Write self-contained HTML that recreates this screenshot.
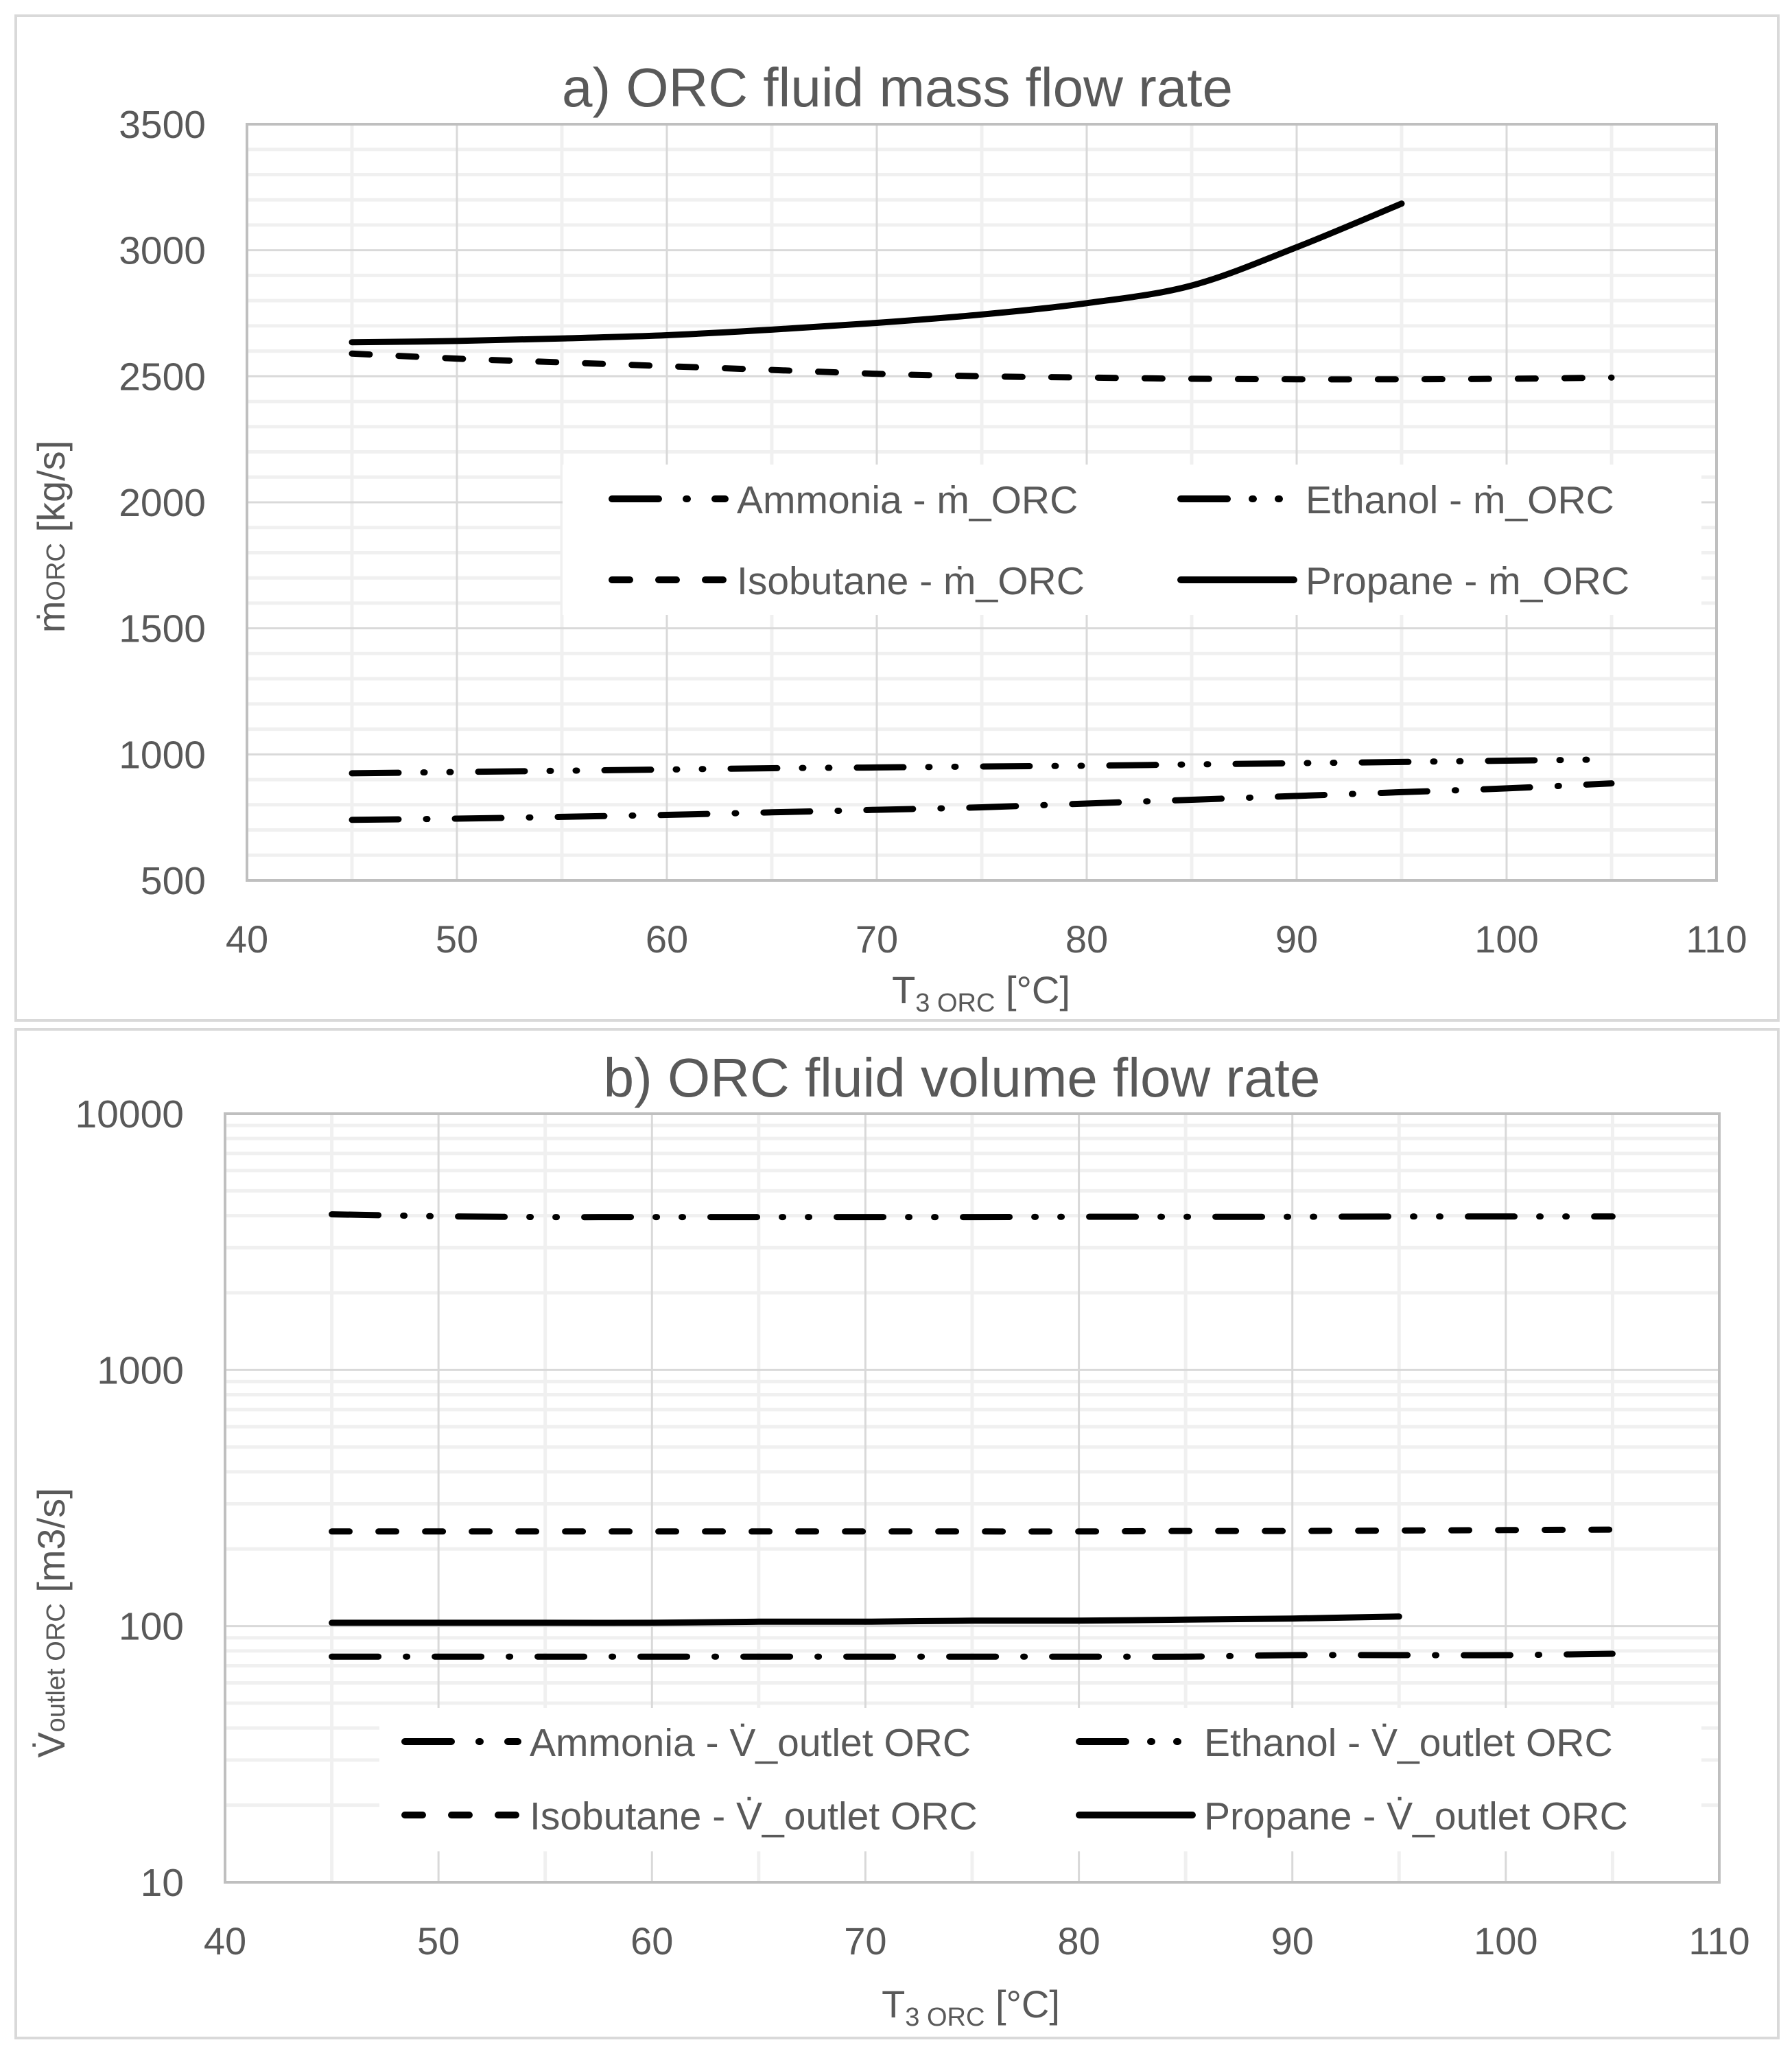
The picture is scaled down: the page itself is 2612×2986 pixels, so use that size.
<!DOCTYPE html>
<html><head><meta charset="utf-8"><style>
html,body{margin:0;padding:0;background:#fff}
svg{display:block}
text{font-family:"Liberation Sans",sans-serif;fill:#595959}
</style></head><body>
<svg id="svg" width="2612" height="2986" viewBox="0 0 2612 2986" xmlns="http://www.w3.org/2000/svg">
<rect x="23" y="23" width="2569" height="1464" fill="#fff" stroke="#d9d9d9" stroke-width="4"/>
<rect x="23" y="1500" width="2569" height="1470" fill="#fff" stroke="#d9d9d9" stroke-width="4"/>
<g id="ca"></g>
<g id="cb"></g>
</svg>
<script>
// Chart a data
const xsA = [45,50,55,60,65,70,75,80,85,90,95,100,105];
const xsProp = [45,50,55,60,65,70,75,80,85,90,95];
const aAmmonia = [740,745,752,760,770,780,790,805,820,835,850,865,885];
const aEthanol = [925,930,935,940,945,948,952,955,960,965,970,975,980];
const aIsobutane = [2590,2570,2555,2540,2525,2510,2500,2495,2490,2488,2488,2490,2495];
const aPropane = [2635,2640,2650,2663,2685,2712,2745,2790,2860,3012,3185];
const aYTicks = [500,1000,1500,2000,2500,3000,3500];
const xTicks = [40,50,60,70,80,90,100,110];
// Chart b data
const bAmmonia = [76,76,76,76,76,76,76,76,76,77,77,77,78];
const bEthanol = [4050,3980,3950,3950,3950,3950,3950,3960,3960,3960,3970,3970,3970];
const bIsobutane = [234,234,234,234,234,234,234,234,235,235,236,237,238];
const bPropane = [103,103,103,103,104,104,105,105,106,107,109];
const bYTicks = [10,100,1000,10000];

const NS='http://www.w3.org/2000/svg';
function mk(parent,tag,attrs,txt){const e=document.createElementNS(NS,tag);for(const k in attrs)e.setAttribute(k,attrs[k]);if(txt!==undefined)e.textContent=txt;parent.appendChild(e);return e;}
const DASH={amm:'68,40,2,40',eth:'68,36,2,36,2,40',iso:'26,42',prop:'none'};
function smooth(P){
  let d='M'+P[0][0].toFixed(1)+','+P[0][1].toFixed(1);
  for(let i=0;i<P.length-1;i++){
    const p0=P[Math.max(0,i-1)],p1=P[i],p2=P[i+1],p3=P[Math.min(P.length-1,i+2)];
    const c1=[p1[0]+(p2[0]-p0[0])/6,p1[1]+(p2[1]-p0[1])/6];
    const c2=[p2[0]-(p3[0]-p1[0])/6,p2[1]-(p3[1]-p1[1])/6];
    d+=' C'+c1.map(v=>v.toFixed(1)).join(',')+' '+c2.map(v=>v.toFixed(1)).join(',')+' '+p2.map(v=>v.toFixed(1)).join(',');
  }
  return d;
}

function chart(g,o){
  const X=v=>o.x0+(v-40)/70*(o.x1-o.x0);
  const Y=o.Y;
  for(let v=45;v<110;v+=10){const l=mk(g,'line',{x1:X(v),x2:X(v),y1:o.y0,y2:o.y1,stroke:'#f0f0f0','stroke-width':5});
    
    }
  o.minor.forEach(v=>{const l=mk(g,'line',{x1:o.x0,x2:o.x1,y1:Y(v),y2:Y(v),stroke:'#f0f0f0','stroke-width':5});
    
    });
  xTicks.forEach(v=>{const l=mk(g,'line',{x1:X(v),x2:X(v),y1:o.y0,y2:o.y1,stroke:'#d9d9d9','stroke-width':3});
    
    
    const t=mk(g,'text',{x:X(v),y:o.y1+o.xty,'font-size':56,'text-anchor':'middle'},v);
    
    });
  o.yt.forEach(v=>{const l=mk(g,'line',{x1:o.x0,x2:o.x1,y1:Y(v),y2:Y(v),stroke:'#d9d9d9','stroke-width':3});
    
    
    const t=mk(g,'text',{x:o.tx,y:Y(v)+20,'font-size':57,'text-anchor':'end'},v);
    
    });
  const b=mk(g,'rect',{x:o.x0,y:o.y0,width:o.x1-o.x0,height:o.y1-o.y0,fill:'none',stroke:'#bfbfbf','stroke-width':4});
  
  
  const lb=mk(g,'rect',{x:o.lg.x,y:o.lg.y,width:o.lg.w,height:o.lg.h,fill:'#fff'});
  
  
  o.series.forEach(s=>{
    const P=s.ys.map((v,i)=>[X(s.xs[i]),Y(v)]);
    const p=mk(g,'path',{d:smooth(P),fill:'none',stroke:'#000','stroke-width':9,'stroke-linecap':'round','stroke-linejoin':'round','stroke-dasharray':DASH[s.d]});
    
    
  });
  o.series.forEach((s,i)=>{
    const col=o.legOrder[i];const cx=o.lg.cols[col[0]], cy=o.lg.rows[col[1]];
    const ln=mk(g,'line',{x1:cx+5,x2:cx+170,y1:cy,y2:cy,stroke:'#000','stroke-width':10,'stroke-linecap':'round','stroke-dasharray':DASH[s.d]});
    
    
    const t=mk(g,'text',{x:cx+187,y:cy+21,'font-size':57},s.n+' - '+o.sym);
    
    
  });
  const tt=mk(g,'text',{x:o.title[0],y:o.title[1],'font-size':80,'text-anchor':'middle'},o.titleText);
  
  
  const xt=mk(g,'text',{x:o.xt[0],y:o.xt[1],'font-size':56,'text-anchor':'middle'});
  
  
  xt.innerHTML='T<tspan font-size="38" dy="12">3 ORC</tspan><tspan dy="-12"> [°C]</tspan>';
  const yt=mk(g,'text',{x:0,y:0,'font-size':56,'text-anchor':'middle',transform:'translate('+o.yti[0]+','+o.yti[1]+') rotate(-90)'});
  
  
  yt.innerHTML=o.ytHtml;
}

const a0=181,a1=1283;
const minorA=[];for(let v=600;v<3500;v+=100)if(v%500)minorA.push(v);
chart(document.getElementById('ca'),{
  x0:360,x1:2502,y0:a0,y1:a1,Y:v=>a1-(v-500)/3000*(a1-a0),minor:minorA,yt:aYTicks,tx:300,xty:105,
  lg:{x:820,y:677,w:1660,h:219,cols:[887,1716],rows:[727,845]},
  series:[{n:'Ammonia',xs:xsA,ys:aAmmonia,d:'amm'},{n:'Ethanol',xs:xsA,ys:aEthanol,d:'eth'},{n:'Isobutane',xs:xsA,ys:aIsobutane,d:'iso'},{n:'Propane',xs:xsProp,ys:aPropane,d:'prop'}],
  legOrder:[[0,0],[1,0],[0,1],[1,1]],sym:'ṁ_ORC',
  title:[1308,155],titleText:'a) ORC fluid mass flow rate',xt:[1430,1462],yti:[94,782],
  ytHtml:'ṁ<tspan font-size="38">ORC</tspan> [kg/s]'
});
const b0=1623,b1=2743;
const minorB=[];[10,100,1000].forEach(d=>{for(let k=2;k<10;k++)minorB.push(d*k);});
chart(document.getElementById('cb'),{
  x0:328,x1:2506,y0:b0,y1:b1,Y:v=>b1-(Math.log10(v)-1)/3*(b1-b0),minor:minorB,yt:bYTicks,tx:268,xty:105,
  lg:{x:553,y:2489,w:1927,h:209,cols:[585,1568],rows:[2538,2645]},
  series:[{n:'Ammonia',xs:xsA,ys:bAmmonia,d:'amm'},{n:'Ethanol',xs:xsA,ys:bEthanol,d:'eth'},{n:'Isobutane',xs:xsA,ys:bIsobutane,d:'iso'},{n:'Propane',xs:xsProp,ys:bPropane,d:'prop'}],
  legOrder:[[0,0],[1,0],[0,1],[1,1]],sym:'V̇_outlet ORC',
  title:[1402,1598],titleText:'b) ORC fluid volume flow rate',xt:[1415,2940],yti:[94,2365],
  ytHtml:'V̇<tspan font-size="38">outlet ORC</tspan> [m3/s]'
});
</script>
</body></html>
